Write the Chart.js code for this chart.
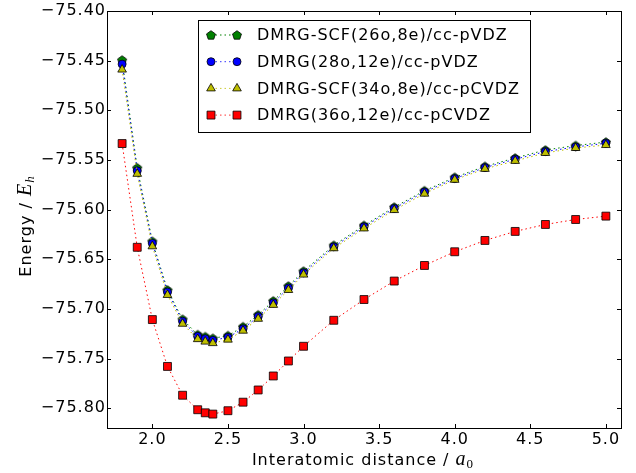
<!DOCTYPE html>
<html>
<head>
<meta charset="utf-8">
<script src="https://cdn.jsdelivr.net/npm/chart.js@4"></script>
<style>
  body { margin: 0; background: #fff; }
</style>
</head>
<body>
<canvas id="grafico" width="636" height="473"></canvas>
<script>
// distancias interatomicas (a0)
const distancias = [1.8, 1.9, 2.0, 2.1, 2.2, 2.3, 2.35, 2.4, 2.5, 2.6, 2.7, 2.8, 2.9, 3.0, 3.2, 3.4, 3.6, 3.8, 4.0, 4.2, 4.4, 4.6, 4.8, 5.0];

// energias (Eh)
const scf26o8e = [-75.4494, -75.558, -75.632, -75.681, -75.7105, -75.726, -75.728, -75.7297, -75.727, -75.718, -75.706, -75.692, -75.677, -75.662, -75.636, -75.616, -75.5975, -75.581, -75.5675, -75.5565, -75.548, -75.540, -75.5355, -75.532];
const dmrg28o12e = [-75.4535, -75.561, -75.634, -75.683, -75.7125, -75.7277, -75.730, -75.7317, -75.7287, -75.720, -75.7078, -75.694, -75.679, -75.6637, -75.6375, -75.6173, -75.5988, -75.5823, -75.5688, -75.5577, -75.5493, -75.5416, -75.5369, -75.5332];
const scf34o8e = [-75.459, -75.564, -75.637, -75.686, -75.715, -75.7305, -75.733, -75.7345, -75.731, -75.722, -75.710, -75.696, -75.681, -75.6655, -75.639, -75.619, -75.6005, -75.584, -75.570, -75.559, -75.551, -75.543, -75.538, -75.535];
const dmrg36o12e = [-75.5335, -75.638, -75.7108, -75.758, -75.787, -75.8016, -75.8047, -75.806, -75.8026, -75.794, -75.7817, -75.7676, -75.7525, -75.7377, -75.7115, -75.6906, -75.672, -75.6563, -75.6425, -75.6311, -75.622, -75.615, -75.610, -75.6066];

const rotulos = ["DMRG-SCF(26o,8e)/cc-pVDZ", "DMRG(28o,12e)/cc-pVDZ", "DMRG-SCF(34o,8e)/cc-pCVDZ", "DMRG(36o,12e)/cc-pCVDZ"];

function pentagono(cor) {
  const c = document.createElement("canvas");
  c.width = 12; c.height = 12;
  const ctx = c.getContext("2d");
  ctx.beginPath();
  for (let i = 0; i < 5; i++) {
    const a = -Math.PI / 2 + i * 2 * Math.PI / 5;
    const x = 6 + 4.7 * Math.cos(a), y = 6.4 + 4.7 * Math.sin(a);
    if (i == 0) ctx.moveTo(x, y); else ctx.lineTo(x, y);
  }
  ctx.closePath();
  ctx.fillStyle = cor;
  ctx.fill();
  ctx.lineWidth = 0.8;
  ctx.strokeStyle = "black";
  ctx.stroke();
  return c;
}

function serie(label, valores, cor, estilo, raio, ordem) {
  return {
    label: label,
    data: distancias.map((x, i) => ({ x: x, y: valores[i] })),
    borderColor: cor,
    backgroundColor: cor,
    borderWidth: 1,
    borderDash: [1.5, 3],
    pointStyle: estilo,
    pointRadius: raio,
    pointHoverRadius: raio,
    pointBackgroundColor: cor,
    pointBorderColor: "black",
    pointBorderWidth: 0.8,
    tension: 0,
    order: ordem,
  };
}

const datasets = [
  serie(rotulos[0], scf26o8e, "#008000", pentagono("#008000"), 4.5, 4),
  serie(rotulos[1], dmrg28o12e, "#0000ff", "circle", 4, 3),
  serie(rotulos[2], scf34o8e, "#bfbf00", "triangle", 5, 2),
  serie(rotulos[3], dmrg36o12e, "#ff0000", "rect", 5.6, 1),
];

// texto um pouco mais largo, como no matplotlib antigo
const espacamento = {
  id: "espacamento",
  beforeDraw(chart) { chart.ctx.letterSpacing = "1px"; },
};

// moldura, ticks para dentro, legenda e titulos dos eixos
const estiloMpl = {
  id: "estiloMpl",
  afterDraw(chart) {
    const ctx = chart.ctx;
    const a = chart.chartArea;
    const sx = chart.scales.x, sy = chart.scales.y;
    ctx.save();
    ctx.letterSpacing = "1px";
    ctx.strokeStyle = "black";
    ctx.lineWidth = 1;
    ctx.strokeRect(Math.round(a.left) + 0.5, Math.round(a.top) + 0.5, Math.round(a.right - a.left), Math.round(a.bottom - a.top));
    ctx.beginPath();
    sx.ticks.forEach(t => {
      const p = Math.round(sx.getPixelForValue(t.value)) + 0.5;
      ctx.moveTo(p, a.bottom); ctx.lineTo(p, a.bottom - 4);
      ctx.moveTo(p, a.top); ctx.lineTo(p, a.top + 4);
    });
    sy.ticks.forEach(t => {
      const p = Math.round(sy.getPixelForValue(t.value)) + 0.5;
      ctx.moveTo(a.left, p); ctx.lineTo(a.left + 4, p);
      ctx.moveTo(a.right, p); ctx.lineTo(a.right - 4, p);
    });
    ctx.stroke();

    // legenda
    const lx = 198, ly = 20, lw = 332, lh = 112;
    ctx.fillStyle = "white";
    ctx.fillRect(lx, ly, lw, lh);
    ctx.strokeRect(lx + 0.5, ly + 0.5, lw, lh);
    chart.data.datasets.forEach((ds, i) => {
      const y = 35 + i * 26.7;
      ctx.save();
      ctx.strokeStyle = ds.borderColor;
      ctx.setLineDash(ds.borderDash);
      ctx.beginPath();
      ctx.moveTo(211, y); ctx.lineTo(237, y);
      ctx.stroke();
      ctx.restore();
      const opts = { pointStyle: ds.pointStyle, radius: ds.pointRadius, borderWidth: ds.pointBorderWidth, rotation: 0 };
      ctx.fillStyle = ds.pointBackgroundColor;
      ctx.strokeStyle = "black";
      ctx.lineWidth = ds.pointBorderWidth;
      Chart.helpers.drawPoint(ctx, opts, 211, y);
      ctx.fillStyle = ds.pointBackgroundColor;
      ctx.strokeStyle = "black";
      Chart.helpers.drawPoint(ctx, opts, 237, y);
      ctx.fillStyle = "black";
      ctx.font = "16px 'DejaVu Sans'";
      ctx.textBaseline = "middle";
      ctx.textAlign = "left";
      ctx.fillText(ds.label, 257, y + 1);
    });

    // titulos dos eixos
    const fonteN = "16px 'DejaVu Sans'";
    const fonteI = "italic 20px 'Liberation Serif'";
    const fonteSI = "italic 13px 'Liberation Serif'";
    const fonteS = "13px 'Liberation Serif'";
    function titulo(partes, cx, cy, rot) {
      ctx.save();
      ctx.translate(cx, cy);
      ctx.rotate(rot);
      let total = 0;
      partes.forEach(p => { ctx.font = p[1]; total += ctx.measureText(p[0]).width; });
      let x = -total / 2;
      ctx.fillStyle = "black";
      ctx.textAlign = "left";
      ctx.textBaseline = "alphabetic";
      partes.forEach(p => {
        ctx.font = p[1];
        ctx.fillText(p[0], x, p[2]);
        x += ctx.measureText(p[0]).width;
      });
      ctx.restore();
    }
    titulo([["Energy / ", fonteN, 0], ["E", fonteI, 0], ["h", fonteSI, 3]], 31, 226, -Math.PI / 2);
    titulo([["Interatomic distance / ", fonteN, 0], ["a", fonteI, 0], ["0", fonteS, 3]], 363, 465, 0);
    ctx.restore();
  }
};

Chart.defaults.font.family = "'DejaVu Sans'";
Chart.defaults.font.size = 16;
Chart.defaults.color = "black";

new Chart(document.getElementById("grafico"), {
  type: "line",
  data: { datasets: datasets },
  options: {
    responsive: false,
    animation: false,
    layout: { padding: { top: 11, right: 15, left: 0, bottom: 0 } },
    plugins: {
      legend: { display: false },
      tooltip: { enabled: false },
    },
    scales: {
      x: {
        type: "linear",
        min: 1.7,
        max: 5.1,
        grid: { display: false, drawTicks: false },
        border: { display: false },
        ticks: { stepSize: 0.5, includeBounds: false, padding: 2.5, callback: v => v.toFixed(1) },
        afterFit: s => { s.height = 45; },
      },
      y: {
        type: "linear",
        min: -75.82,
        max: -75.40,
        grid: { display: false, drawTicks: false },
        border: { display: false },
        ticks: { stepSize: 0.05, includeBounds: false, padding: 1, callback: v => v.toFixed(2).replace("-", "\u2212") },
        afterFit: s => { s.width = 107; },
      },
    },
  },
  plugins: [espacamento, estiloMpl],
});
</script>
</body>
</html>
